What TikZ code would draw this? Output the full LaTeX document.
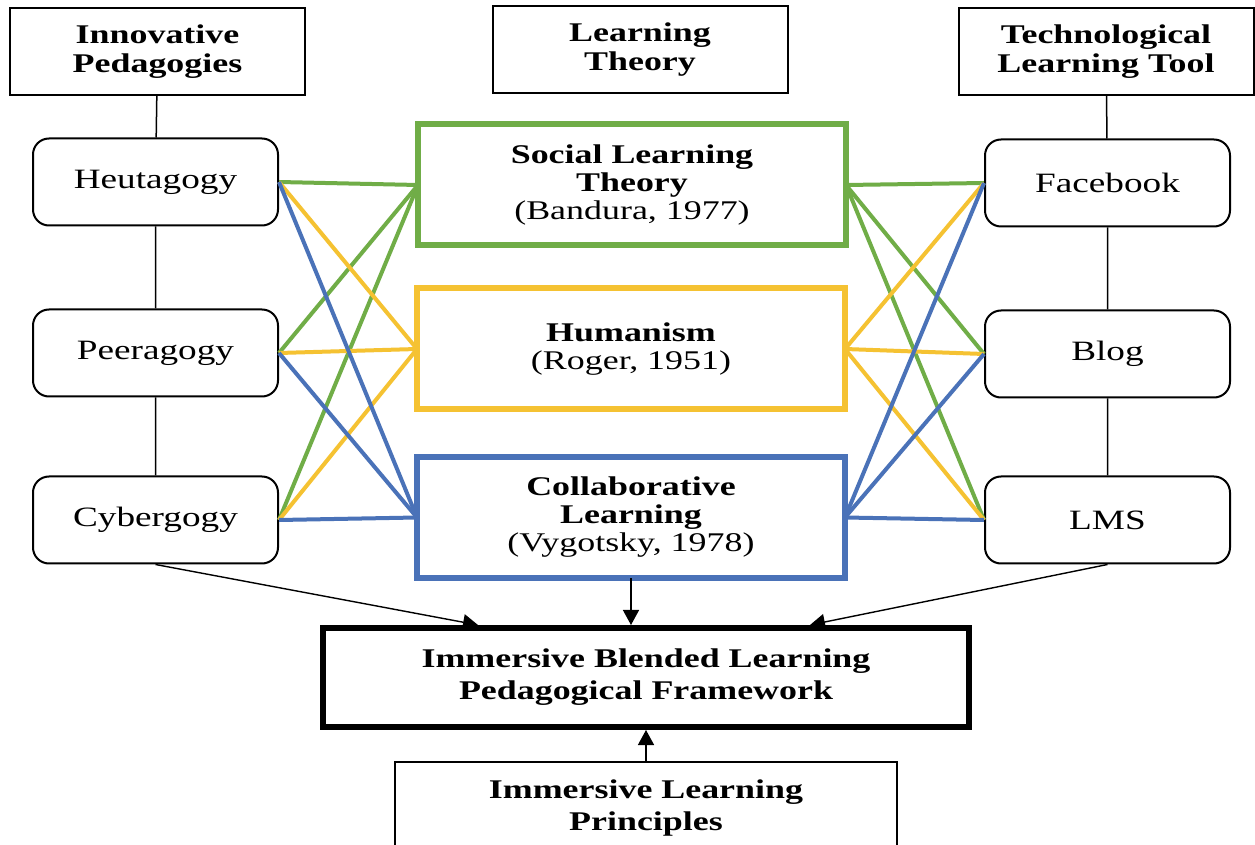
\documentclass[tikz,border=0pt]{standalone}
\usepackage{fontspec}
\setmainfont{Liberation Serif}[FakeStretch=1.33]
\usetikzlibrary{arrows.meta}
\definecolor{slgreen}{HTML}{70AD47}
\definecolor{humyellow}{HTML}{F5C232}
\definecolor{colblue}{HTML}{4A72B8}
\tikzset{
  headbox/.style={draw,line width=1pt,minimum width=147.5pt,minimum height=43.5pt,
    align=center,font=\bfseries\fontsize{13.5}{14.5}\selectfont},
  toolbox/.style={draw,line width=1pt,rounded corners=8pt,minimum width=122.5pt,
    minimum height=43.5pt,font=\fontsize{14}{14}\selectfont},
  theorybox/.style={draw=#1,line width=3pt,outer sep=0pt,minimum width=214pt,
    minimum height=60.5pt,align=center,font=\fontsize{13.5}{14}\selectfont},
  link/.style={draw=#1,line width=2pt},
  flowarrow/.style={-{Triangle[length=7.5pt,width=8pt]},line width=0.7pt}
}
\begin{document}
\begin{tikzpicture}[x=0.5pt,y=-0.5pt]
    \fill[white] (0,0) rectangle (1255,845);
    \useasboundingbox (0,0) rectangle (1255,845);
    % column heads
    \node[headbox] (ped) at (157.5,51.5) {Innovative\\Pedagogies};
    \node[headbox] (lt) at (640,50) {Learning\\Theory};
    \node[headbox] (tool) at (1106,51.5) {Technological\\Learning Tool};
    % pedagogies and tools
    \node[toolbox] (heut) at (155.5,182) {Heutagogy};
    \node[toolbox] (peer) at (155.5,353) {Peeragogy};
    \node[toolbox] (cyber) at (155.5,520) {Cybergogy};
    \node[toolbox] (fb) at (1107.5,183) {Facebook};
    \node[toolbox] (blog) at (1107.5,354) {Blog};
    \node[toolbox] (lms) at (1107.5,520) {LMS};
    \draw[line width=0.75pt] (ped) -- (heut) -- (peer) -- (cyber);
    \draw[line width=0.75pt] (tool) -- (fb) -- (blog) -- (lms);
    % learning theories
    \node[theorybox=slgreen] (slt) at (632,185)
      {\textbf{Social Learning}\\\textbf{Theory}\\(Bandura, 1977)};
    \node[theorybox=humyellow] (hum) at (631,349)
      {\textbf{Humanism}\\(Roger, 1951)};
    \node[theorybox=colblue] (colab) at (631,517.5)
      {\textbf{Collaborative}\\\textbf{Learning}\\(Vygotsky, 1978)};
    \foreach \t/\c in {slt/slgreen,hum/humyellow,colab/colblue}{
      \foreach \p in {heut,peer,cyber} \draw[link=\c] (\p.east) -- (\t.west);
      \foreach \p in {fb,blog,lms} \draw[link=\c] (\t.east) -- (\p.west);
    }
    % framework
    \node[draw,line width=3pt,minimum width=323pt,minimum height=49.5pt,align=center,
      font=\bfseries\fontsize{13.5}{16}\selectfont] (ibl) at (646,677.5)
      {Immersive Blended Learning\\Pedagogical Framework};
    \node[draw,line width=1pt,minimum width=251pt,minimum height=46pt,align=center,
      font=\bfseries\fontsize{13.5}{16}\selectfont] (ilp) at (646,808)
      {Immersive Learning\\Principles};
    \draw[flowarrow] (cyber.south) -- ([xshift=79pt]ibl.north west);
    \draw[flowarrow] (colab.south) -- (colab.south |- ibl.north);
    \draw[flowarrow] (lms.south) -- ([xshift=-81pt]ibl.north east);
    \draw[flowarrow] (ilp.north) -- (ibl.south);
\end{tikzpicture}
\end{document}
